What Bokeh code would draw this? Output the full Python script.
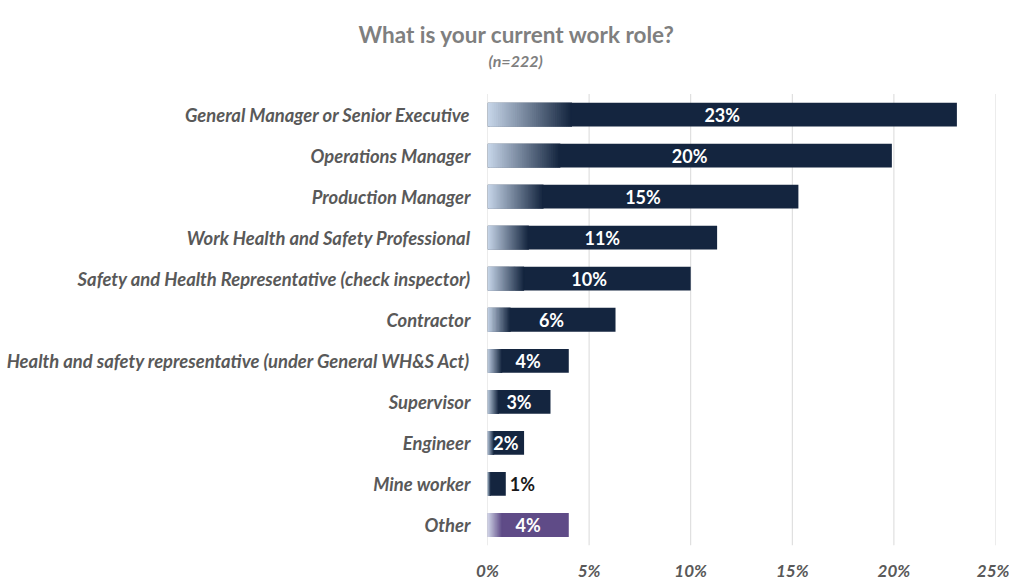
import numpy as np
from bokeh.plotting import figure
from bokeh.models import Range1d, FixedTicker, Title
from bokeh.embed import file_html
from bokeh.resources import INLINE
from bokeh.core.properties import value

# ---- data ----
roles = [
    "General Manager or Senior Executive",
    "Operations Manager",
    "Production Manager",
    "Work Health and Safety Professional",
    "Safety and Health Representative (check inspector)",
    "Contractor",
    "Health and safety representative (under General WH&S Act)",
    "Supervisor",
    "Engineer",
    "Mine worker",
    "Other",
]
shares = [23.1, 19.9, 15.3, 11.3, 10.0, 6.3, 4.0, 3.1, 1.8, 0.9, 4.0]
share_labels = ["23%", "20%", "15%", "11%", "10%", "6%", "4%", "3%", "2%", "1%", "4%"]
x_ticks = [0, 5, 10, 15, 20, 25]
x_tick_labels = ["0%", "5%", "10%", "15%", "20%", "25%"]
title_text = "What is your current work role?"
subtitle_text = "(n=222)"

# ---- styles ----
NAVY = (20, 37, 63)
NAVY_LIGHT = (198, 213, 232)
PURPLE = (95, 75, 135)
PURPLE_LIGHT = (216, 222, 238)
GRAD_FRAC = 0.18
N_SEG = 40
FONT = "Lato"
GREY = "#595959"
TITLE_GREY = "#7f7f7f"
BAR_H = 0.58


def hexc(rgb):
    return "#%02x%02x%02x" % tuple(int(round(c)) for c in rgb)


n = len(roles)
ypos = [n - 1 - i for i in range(n)]          # top row first
y_top_extra = 1.06                              # room for the subtitle (rows)

p = figure(
    width=1009, height=585,
    y_range=Range1d(-0.5, n - 0.5 + y_top_extra),
    x_range=Range1d(0, 25),
    output_backend="svg", toolbar_location=None,
    min_border_left=487, min_border_right=14,
    min_border_top=50, min_border_bottom=40,
)
p.title = Title(text=title_text, align="left", offset=-129, standoff=6,
                text_font=FONT, text_font_style="bold", text_font_size="22.5px",
                text_color=TITLE_GREY)
p.outline_line_color = None
p.background_fill_color = "white"
p.border_fill_color = "white"

# grid lines (only across the bar area)
p.segment(x0=x_ticks, y0=[-0.5] * len(x_ticks), x1=x_ticks,
          y1=[n - 0.5] * len(x_ticks), line_color="#d9d9d9", line_width=1)

# solid bars
solid_colors = [hexc(PURPLE) if r == "Other" else hexc(NAVY) for r in roles]
p.hbar(y=ypos, left=0, right=shares, height=BAR_H, fill_color=solid_colors,
       line_color=None)

# gradient segments (left part of each bar); each overlaps the next one
gy, gl, gr, gc = [], [], [], []
for r, yy, v in zip(roles, ypos, shares):
    dark = PURPLE if r == "Other" else NAVY
    light = PURPLE_LIGHT if r == "Other" else NAVY_LIGHT
    w = v * GRAD_FRAC
    for i in range(N_SEG):
        t = i / (N_SEG - 1)
        col = tuple(light[k] + (dark[k] - light[k]) * t for k in range(3))
        gy.append(yy)
        gl.append(w * i / N_SEG)
        gr.append(min(w, w * (i + 2) / N_SEG))
        gc.append(hexc(col))
p.hbar(y=gy, left=gl, right=gr, height=BAR_H, fill_color=gc, line_color=None)

# value labels
lx, lt, la, lcol = [], [], [], []
for v, t in zip(shares, share_labels):
    lt.append(t)
    if v < 1.5:
        lx.append(v + 0.2)
        la.append("left")
        lcol.append("#1a1a1a")
    else:
        lx.append(v / 2)
        la.append("center")
        lcol.append("white")
p.text(x=lx, y=ypos, text=lt, text_align=la, text_baseline="middle",
       text_color=lcol, text_font=value(FONT), text_font_style="bold",
       text_font_size="18px")

# subtitle (inside the top strip of the frame)
p.text(x=[0], y=[n - 0.5 + 0.817], text=[subtitle_text], text_align="left",
       x_offset=1, text_baseline="middle", text_color=TITLE_GREY,
       text_font=value(FONT), text_font_style="bold italic", text_font_size="16px")

# axes
p.xaxis.ticker = FixedTicker(ticks=x_ticks)
p.xaxis.major_label_overrides = {t: l for t, l in zip(x_ticks, x_tick_labels)}
p.yaxis.ticker = FixedTicker(ticks=ypos)
p.yaxis.major_label_overrides = {yy: r for yy, r in zip(ypos, roles)}
for ax in (p.xaxis, p.yaxis):
    ax.axis_line_color = None
    ax.major_tick_line_color = None
    ax.minor_tick_line_color = None
    ax.major_label_text_font = FONT
    ax.major_label_text_font_style = "bold italic"
    ax.major_label_text_color = GREY
p.yaxis.major_label_text_font_size = "18.4px"
p.xaxis.major_label_text_font_size = "17px"
p.yaxis.major_label_standoff = 11
p.xaxis.major_label_standoff = 8

p.xgrid.grid_line_color = None
p.ygrid.grid_line_color = None

open("out.html", "w").write(file_html(p, INLINE))
